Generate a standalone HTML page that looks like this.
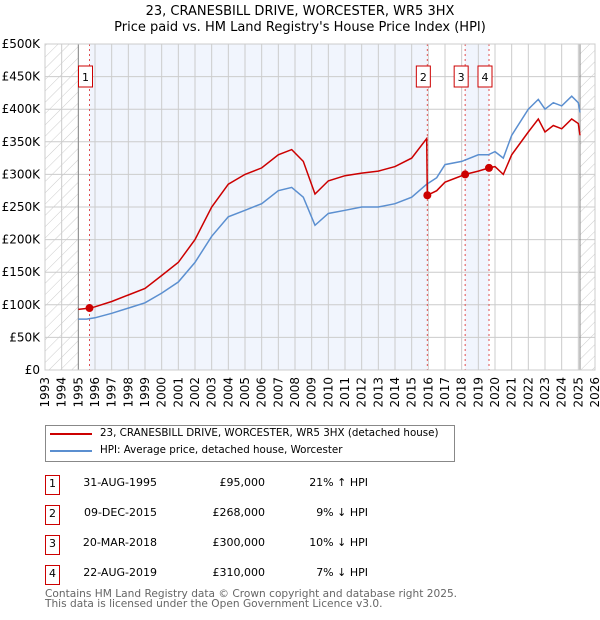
<!DOCTYPE html>
<html><head><meta charset="utf-8"><style>
body{margin:0;width:600px;height:620px;background:#fff;font-family:"DejaVu Sans","Liberation Sans",sans-serif;overflow:hidden;position:relative}
.t{position:absolute;white-space:nowrap}
</style></head><body>
<svg width="600" height="620" style="position:absolute;left:0;top:0" id="svg">
<defs><pattern id="hatch" width="8" height="8" patternUnits="userSpaceOnUse" patternTransform="rotate(45)"><line x1="0" y1="0" x2="0" y2="8" stroke="#ccc" stroke-width="1"/></pattern></defs>
<text x="300" y="15" text-anchor="middle" font-size="13" font-family="DejaVu Sans,Liberation Sans,sans-serif">23, CRANESBILL DRIVE, WORCESTER, WR5 3HX</text>
<text x="300" y="31" text-anchor="middle" font-size="13" font-family="DejaVu Sans,Liberation Sans,sans-serif">Price paid vs. HM Land Registry's House Price Index (HPI)</text>
<g id="bg"></g><g id="grid"></g><g id="marks"></g><g id="axes"></g>
</svg>
<div class="t" style="left:45px;top:425px;width:408px;height:35px;border:1px solid #888"></div>
<div class="t" style="left:50px;top:429px;width:42px;height:2px;background:#cc0000;margin-top:4px"></div>
<div class="t" style="left:100px;top:427px;font-size:10.3px">23, CRANESBILL DRIVE, WORCESTER, WR5 3HX (detached house)</div>
<div class="t" style="left:50px;top:446px;width:42px;height:2px;background:#5b8fd0;margin-top:4px"></div>
<div class="t" style="left:100px;top:444px;font-size:10.3px">HPI: Average price, detached house, Worcester</div>
<div id="tbl"></div>
<div class="t" style="left:45px;top:589px;font-size:10.6px;color:#666;line-height:10px">Contains HM Land Registry data © Crown copyright and database right 2025.<br>This data is licensed under the Open Government Licence v3.0.</div>
<script>
const hpiYears=[1995,1995.5,1996,1997,1998,1999,2000,2001,2002,2003,2004,2005,2006,2007,2007.8,2008.5,2009.2,2010,2011,2012,2013,2014,2015,2015.9,2016.5,2017,2018,2019,2019.6,2020,2020.5,2021,2022,2022.6,2023,2023.5,2024,2024.6,2025,2025.1];
const hpiValues=[78,78,80,87,95,103,118,135,165,205,235,245,255,275,280,265,222,240,245,250,250,255,265,285,295,315,320,330,330,335,325,360,400,415,400,410,405,420,410,395];
const priceYears=[1995,1995.67,1996,1997,1998,1999,2000,2001,2002,2003,2004,2005,2006,2007,2007.8,2008.5,2009.2,2010,2011,2012,2013,2014,2015,2015.9,2015.94,2016.5,2017,2018.21,2019,2019.64,2020,2020.5,2021,2022,2022.6,2023,2023.5,2024,2024.6,2025,2025.1];
const priceValues=[93,95,97,105,115,125,145,165,200,250,285,300,310,330,338,320,270,290,298,302,305,312,325,355,268,275,288,300,305,310,312,300,330,365,385,365,375,370,385,378,360];
const saleYears=[1995.67,2015.94,2018.21,2019.64];
const saleValues=[95,268,300,310];
const saleLabels=["1","2","3","4"];
const saleDates=["31-AUG-1995","09-DEC-2015","20-MAR-2018","22-AUG-2019"];
const salePrices=["£95,000","£268,000","£300,000","£310,000"];
const saleDiffs=["21% ↑ HPI","9% ↓ HPI","10% ↓ HPI","7% ↓ HPI"];
const yTicks=[0,50,100,150,200,250,300,350,400,450,500];
const yTickLabels=["£0","£50K","£100K","£150K","£200K","£250K","£300K","£350K","£400K","£450K","£500K"];
const xTicks=[];for(let y=1993;y<=2026;y++)xTicks.push(y);
const X0=45,X1=595,Y0=370,Y1=44,xmin=1993,xmax=2026,ymax=500;
const x=v=>X0+(v-xmin)/(xmax-xmin)*(X1-X0);
const y=v=>Y0-v/ymax*(Y0-Y1);
const NS="http://www.w3.org/2000/svg";
function mk(p,tag,a){const e=document.createElementNS(NS,tag);for(const k in a)e.setAttribute(k,a[k]);document.getElementById(p).appendChild(e);return e;}
let r=mk('bg','rect',{x:X0,y:Y1,width:X1-X0,height:Y0-Y1,fill:'#fff'});
r=mk('bg','rect',{x:X0,y:Y1,width:x(1995)-X0,height:Y0-Y1,fill:'url(#hatch)'});

r=mk('bg','rect',{x:x(2025.1),y:Y1,width:X1-x(2025.1),height:Y0-Y1,fill:'url(#hatch)'});

[[0,1],[2,3]].forEach(([a,b])=>{const s=mk('bg','rect',{x:x(saleYears[a]),y:Y1,width:x(saleYears[b])-x(saleYears[a]),height:Y0-Y1,fill:'#eef3fc',opacity:0.8});
});
xTicks.forEach(t=>{mk('grid','line',{x1:x(t),x2:x(t),y1:Y1,y2:Y0,stroke:'#ccc','stroke-width':1});
const tx=mk('axes','text',{x:0,y:0,'font-size':12,'text-anchor':'end',transform:`translate(${x(t)+4},${Y0+7}) rotate(-90)`});tx.textContent=t;
});
yTicks.forEach((t,i)=>{mk('grid','line',{x1:X0,x2:X1,y1:y(t),y2:y(t),stroke:'#ccc','stroke-width':1});
const tx=mk('axes','text',{x:X0-5,y:y(t)+4,'font-size':12,'text-anchor':'end'});tx.textContent=yTickLabels[i];
});
mk('grid','line',{x1:x(1995),x2:x(1995),y1:Y1,y2:Y0,stroke:'#888'});
mk('grid','line',{x1:x(2025.1),x2:x(2025.1),y1:Y1,y2:Y0,stroke:'#888'});
saleYears.forEach(s=>{const l=mk('grid','line',{x1:x(s),x2:x(s),y1:Y1,y2:Y0,stroke:'#e05050','stroke-dasharray':'2,3'});
});
const pl=(xs,vs)=>xs.map((v,i)=>x(v).toFixed(1)+','+y(vs[i]).toFixed(1)).join(' ');
let h=mk('marks','polyline',{points:pl(hpiYears,hpiValues),fill:'none',stroke:'#5b8fd0','stroke-width':1.5});

let p=mk('marks','polyline',{points:pl(priceYears,priceValues),fill:'none',stroke:'#cc0000','stroke-width':1.5});

saleYears.forEach((s,i)=>{const c=mk('marks','circle',{cx:x(s),cy:y(saleValues[i]),r:4,fill:'#cc0000'});

const bx=x(s)+3-14;const b=mk('marks','rect',{x:bx,y:66,width:14,height:21,fill:'#fff',stroke:'#cc0000'});

const t=mk('marks','text',{x:bx+7,y:81,'font-size':11,'text-anchor':'middle'});t.textContent=saleLabels[i];
});
mk('axes','rect',{x:X0,y:Y1,width:X1-X0,height:Y0-Y1,fill:'none',stroke:'#ccc'});
const tbl=document.getElementById('tbl');
saleLabels.forEach((l,i)=>{const top=475+i*30;
const row=document.createElement('div');


row.innerHTML=`<div class="t" style="left:45px;top:${top}px;width:13px;height:18px;border:1px solid #cc0000;font-size:11px;text-align:center;line-height:16px">${l}</div>
<div class="t" style="left:57px;top:${top+1}px;width:100px;text-align:right;font-size:11px">${saleDates[i]}</div>
<div class="t" style="left:165px;top:${top+1}px;width:100px;text-align:right;font-size:11px">${salePrices[i]}</div>
<div class="t" style="left:268px;top:${top+1}px;width:100px;text-align:right;font-size:11px">${saleDiffs[i]}</div>`;
tbl.appendChild(row);});
</script>
</body></html>
